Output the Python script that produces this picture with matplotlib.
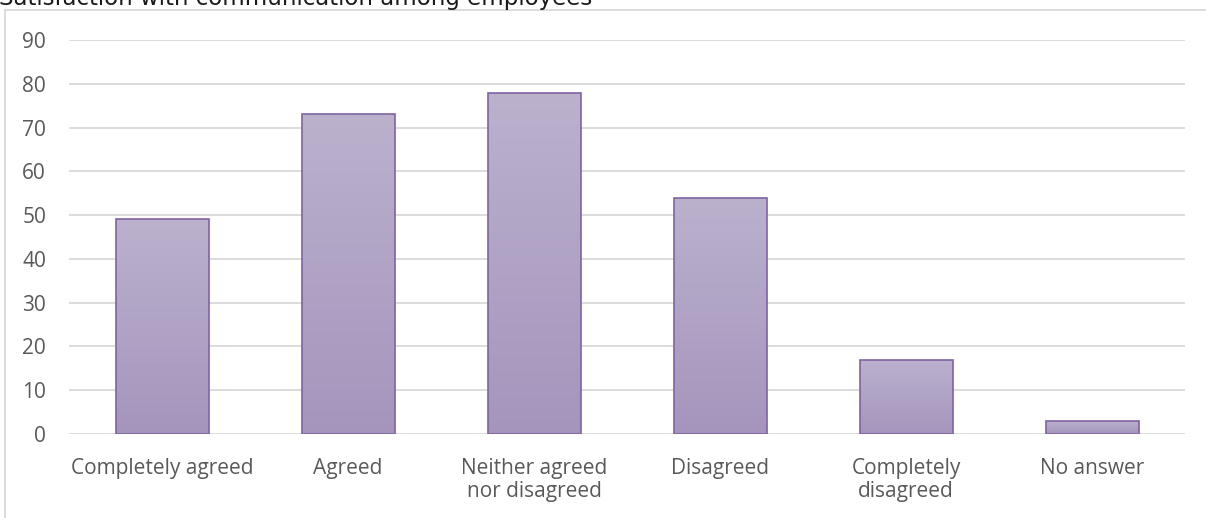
import numpy as np
import matplotlib
matplotlib.use("Agg")
import matplotlib.pyplot as plt
from matplotlib.patches import Rectangle
from matplotlib.colors import LinearSegmentedColormap

# Survey responses
categories = ["Completely agreed", "Agreed", "Neither agreed\nnor disagreed",
              "Disagreed", "Completely\ndisagreed", "No answer"]
counts = [49, 73, 78, 54, 17, 3]
y_ticks = [0, 10, 20, 30, 40, 50, 60, 70, 80, 90]
title = "Satisfaction with communication among employees"

W, H = 1206, 518
fig = plt.figure(figsize=(W / 100, H / 100), dpi=100)
fig.patch.set_facecolor("white")

ax = fig.add_axes([69 / W, (H - 434) / H, (1185 - 69) / W, (434 - 40) / H])

label_font = "Open Sans"
text_color = "#595959"
grid_color = "#d9d9d9"
edge_color = "#7f63a1"

x = np.arange(len(categories))
bars = ax.bar(x, counts, width=0.5, facecolor="none", edgecolor=edge_color,
              linewidth=1.2, zorder=3)

# vertical gradient fill clipped to each bar
cmap = LinearSegmentedColormap.from_list("lav", ["#a595bd", "#bbb1cd"])
grad = np.linspace(0, 1, 256).reshape(-1, 1)
for b in bars:
    x0, y0 = b.get_x(), b.get_y()
    w, h = b.get_width(), b.get_height()
    im = ax.imshow(grad, cmap=cmap, origin="lower", aspect="auto",
                   extent=[x0, x0 + w, y0, y0 + h], zorder=2,
                   interpolation="bilinear")
    im.set_clip_path(b)

ax.set_xlim(-0.5, len(categories) - 0.5)
ax.set_ylim(0, 90)
ax.set_yticks(y_ticks)
ax.set_xticks(x)
ax.set_xticklabels(categories, fontfamily=label_font, fontsize=15,
                   color=text_color, linespacing=1.15)
ax.set_yticklabels([str(v) for v in y_ticks], fontfamily=label_font,
                   fontsize=15, color=text_color)
ax.tick_params(axis="both", length=0)
ax.tick_params(axis="x", pad=17)
ax.tick_params(axis="y", pad=16.5)
ax.yaxis.grid(True, color=grid_color, linewidth=1.3, zorder=0)
ax.set_axisbelow(True)
for s in ax.spines.values():
    s.set_visible(False)

# chart frame (left and top edges visible)
fig.add_artist(Rectangle((4.5 / W, -0.2), 1.2, (H - 10) / H + 0.2,
                         transform=fig.transFigure, facecolor="none",
                         edgecolor="#d9d9d9", linewidth=1.3, zorder=0))

fig.text(-1 / W, 1 - 5 / H, title, fontfamily="DejaVu Sans", fontsize=16.5,
         color="#1a1a1a", va="baseline", ha="left")

fig.savefig("out.png", dpi=100, facecolor="white")
